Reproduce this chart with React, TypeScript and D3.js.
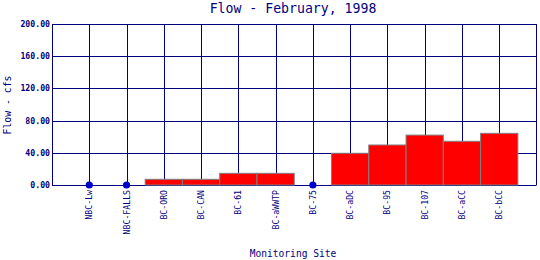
import React from "react";
import * as d3 from "d3";

const sites = ["NBC-Lw", "NBC-FALLS", "BC-ORO", "BC-CAN", "BC-61", "BC-aWWTP", "BC-75", "BC-aDC", "BC-95", "BC-107", "BC-aCC", "BC-bCC"];
const flows: (number | null)[] = [0, 0, 7.1, 7.1, 14.5, 14.5, 0, 39.4, 49.7, 62, 54.3, 64.2];
const barSites = [false, false, true, true, true, true, false, true, true, true, true, true];
const yTicks = [0, 40, 80, 120, 160, 200];

const W = 540, H = 260;
const L = 52, R = 536.5, T = 24, B = 185;
const NAVY = "#000080";
const FONT = "'DejaVu Sans Mono', 'Liberation Mono', monospace";

export default function App() {
  const x = d3.scaleLinear().domain([0, sites.length + 1]).range([L, R]);
  const y = d3.scaleLinear().domain([0, 200]).range([B, T]);
  const step = x(1) - x(0);
  return (
    <svg width={W} height={H} style={{ position: "absolute", left: 0, top: 0, background: "#fff" }}>
      <rect x={0} y={0} width={W} height={H} fill="#fff" />
      <text x={293} y={13} textAnchor="middle" fontFamily={FONT} fontSize={13.2} fill={NAVY}>Flow - February, 1998</text>
      {yTicks.map((t) => (
        <g key={t}>
          <line x1={L} x2={R} y1={Math.round(y(t)) + 0.5} y2={Math.round(y(t)) + 0.5} stroke={NAVY} strokeWidth={1} />
          <text x={50} y={y(t) + 3} textAnchor="end" fontFamily={FONT} fontSize={8.2} fontWeight="bold" fill={NAVY}>{t.toFixed(2)}</text>
        </g>
      ))}
      {sites.map((s, i) => (
        <line key={s} x1={Math.round(x(i + 1)) + 0.5} x2={Math.round(x(i + 1)) + 0.5} y1={T} y2={B} stroke={NAVY} strokeWidth={1} />
      ))}
      <line x1={L + 0.5} x2={L + 0.5} y1={T} y2={B} stroke={NAVY} />
      <line x1={R} x2={R} y1={T} y2={B} stroke={NAVY} />
      {sites.map((s, i) =>
        barSites[i] ? (
          <rect key={s} x={x(i + 1) - step / 2} y={y(flows[i] as number)} width={step} height={B - y(flows[i] as number)} fill="#ff0000" stroke="#808080" strokeWidth={1} />
        ) : null
      )}
      {sites.map((s, i) =>
        !barSites[i] ? <circle key={s} cx={x(i + 1)} cy={y(flows[i] as number)} r={3.6} fill="#0000cc" /> : null
      )}
      {sites.map((s, i) => (
        <text key={s} transform={`translate(${x(i + 1) + 3},${190}) rotate(-90)`} textAnchor="end" fontFamily={FONT} fontSize={8.2} fill={NAVY}>{s}</text>
      ))}
      <text transform={`translate(11,105) rotate(-90)`} textAnchor="middle" fontFamily={FONT} fontSize={9.8} fill={NAVY}>Flow - cfs</text>
      <text x={293} y={257} textAnchor="middle" fontFamily={FONT} fontSize={9.6} fill={NAVY}>Monitoring Site</text>
    </svg>
  );
}
